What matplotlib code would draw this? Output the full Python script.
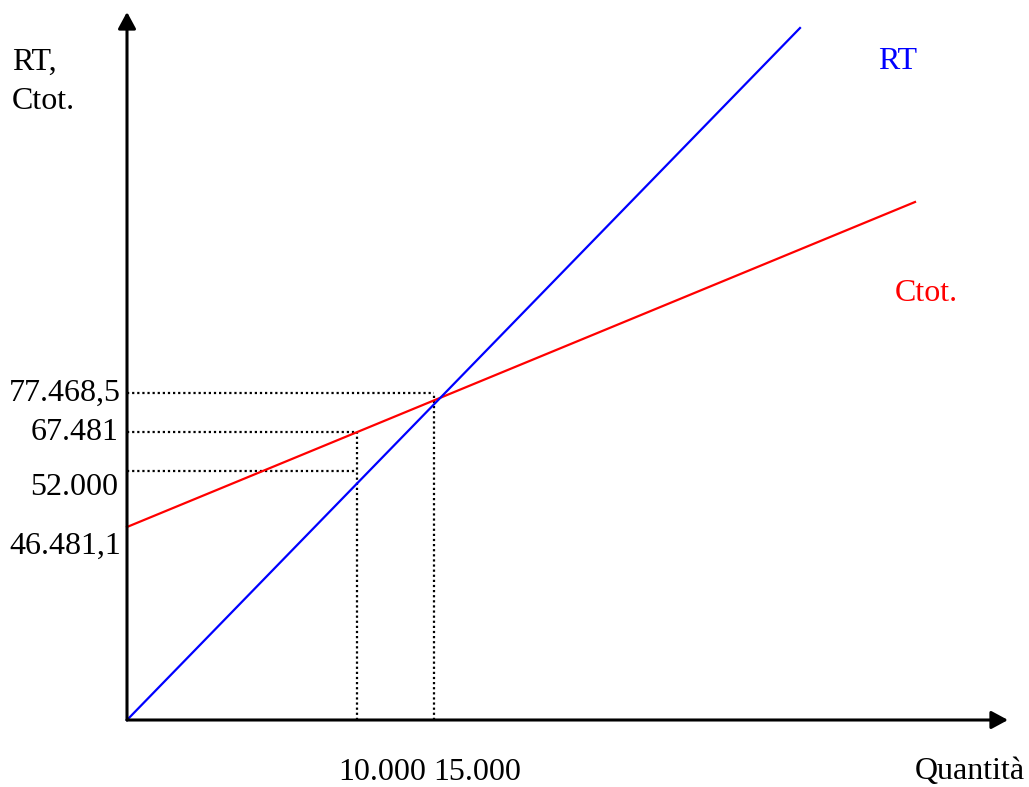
import matplotlib.pyplot as plt

# schematic chart units (origin at axes corner)
rt_q = [0, 673]
rt_val = [0, 692]
ctot_q = [0, 788]
ctot_val = [193, 518]

# dotted guide lines: (level, quantity)
guide_levels = [327, 288, 249]
guide_q = [307, 230, 230]
vert_q = [307, 230]
vert_top = [327, 288]

# tick labels and where they sit
y_labels = ['77.468,5', '67.481', '52.000', '46.481,1']
y_label_pos = [327, 287, 232, 174]
y_label_x = [-6, -9, -9, -6]
x_labels = ['10.000', '15.000']
x_label_pos = [255, 350]

plt.rcParams['font.family'] = ['Liberation Serif', 'DejaVu Serif']
fs = 23

fig = plt.figure(figsize=(10.29, 7.87), dpi=100)
ax = fig.add_axes([127/1029, 67/787, 881/1029, 708/787])
ax.set_xlim(0, 881)
ax.set_ylim(0, 708)
ax.axis('off')

arrow = dict(arrowstyle='-|>,head_length=0.5,head_width=0.27', lw=2.2,
             color='black', mutation_scale=20, shrinkA=0, shrinkB=0)
ax.annotate('', xy=(0, 708), xytext=(0, 0), arrowprops=arrow, annotation_clip=False)
ax.annotate('', xy=(881, 0), xytext=(0, 0), arrowprops=arrow, annotation_clip=False)

dot = (0, (1, 1.3))
for lev, q in zip(guide_levels, guide_q):
    ax.plot([0, q], [lev, lev], color='black', lw=1.6, linestyle=dot, clip_on=False)
for q, top in zip(vert_q, vert_top):
    ax.plot([q, q], [0, top], color='black', lw=1.6, linestyle=dot, clip_on=False)

ax.plot(ctot_q, ctot_val, color='#ff0000', lw=1.6, clip_on=False)
ax.plot(rt_q, rt_val, color='#0000ff', lw=1.6, clip_on=False)

for lab, pos, xx in zip(y_labels, y_label_pos, y_label_x):
    ax.text(xx, pos, lab, ha='right', va='center', fontsize=fs)
for lab, pos in zip(x_labels, x_label_pos):
    ax.text(pos, -52, lab, ha='center', va='center', fontsize=fs)

ax.text(-115, 658, 'RT,', ha='left', va='center', fontsize=fs)
ax.text(-115, 618, 'Ctot.', ha='left', va='center', fontsize=fs)
ax.text(788, -52, 'Quantità', ha='left', va='center', fontsize=fs)
ax.text(751, 658, 'RT', ha='left', va='center', fontsize=fs, color='#0000ff')
ax.text(768, 426, 'Ctot.', ha='left', va='center', fontsize=fs, color='#ff0000')

fig.savefig('out.png', dpi=100)
